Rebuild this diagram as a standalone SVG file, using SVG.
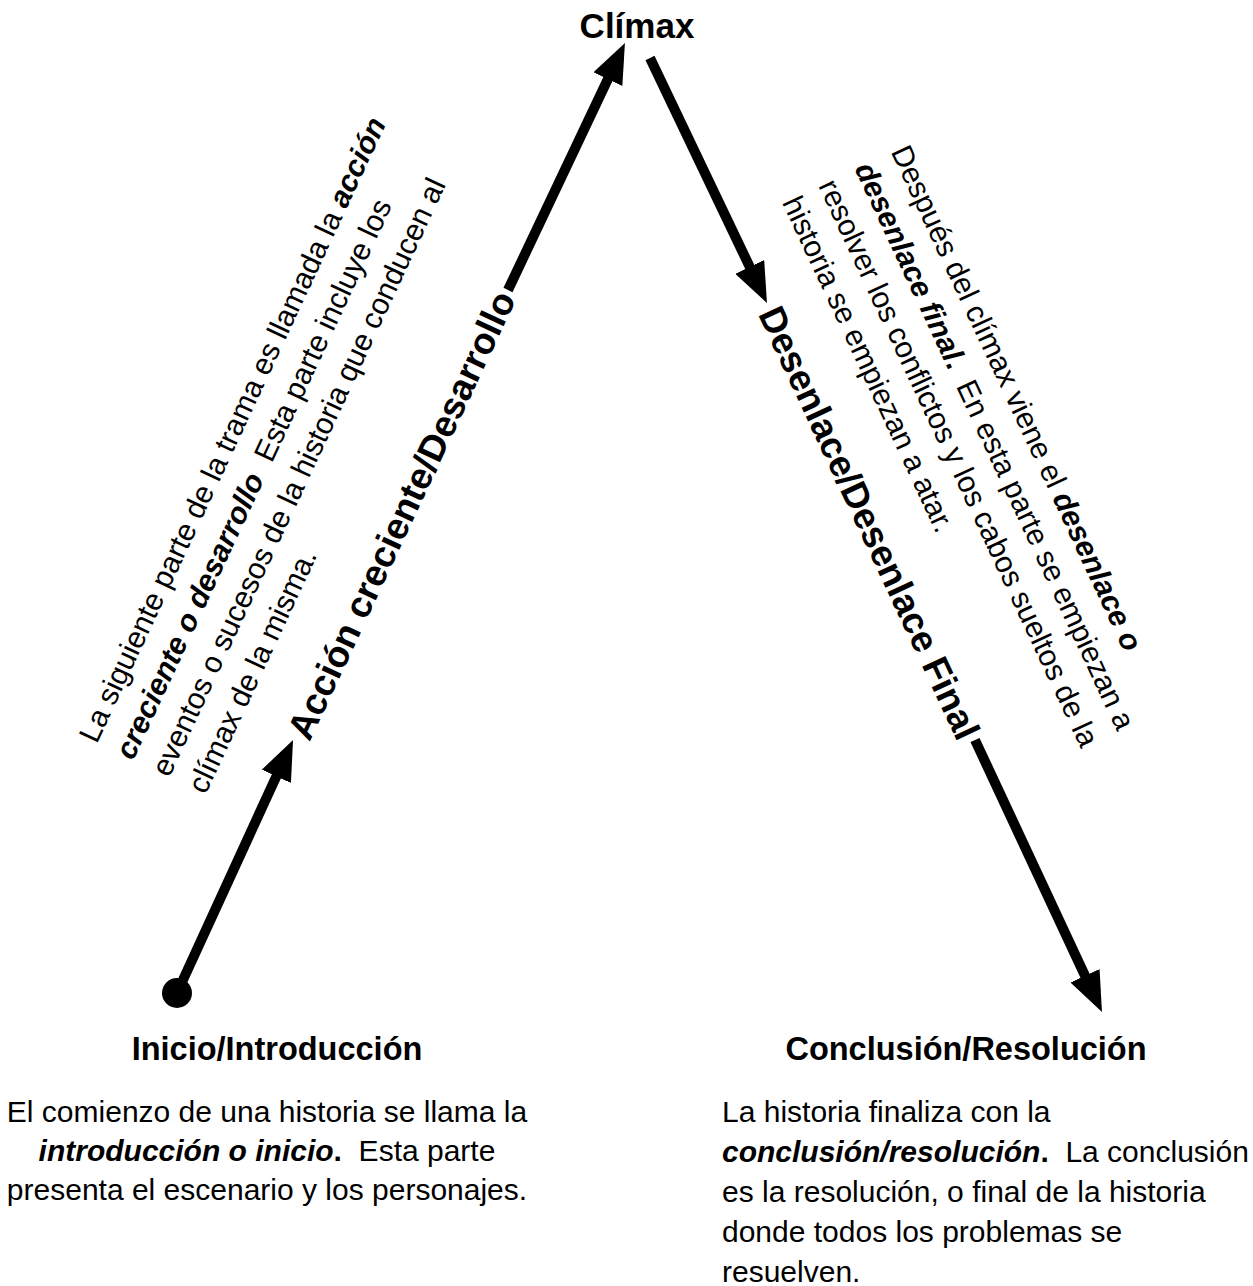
<svg xmlns="http://www.w3.org/2000/svg" width="1253" height="1286" viewBox="0 0 1253 1286">
<style>
text{font-family:"Liberation Sans",Arial,Helvetica,sans-serif;fill:#000}
.head{font-size:32.5px;font-weight:bold}
.rtitle{font-size:37px;font-weight:bold}
.body{font-size:30px}
.bi{font-weight:bold;font-style:italic}
.b{font-weight:bold}
.conn{stroke:#000;stroke-width:10;fill:none}
</style>
<defs>
<marker id="ah" viewBox="0 0 40 32" refX="2" refY="16" markerWidth="40" markerHeight="32" markerUnits="userSpaceOnUse" orient="auto">
<path d="M0,0 L40,16 L0,32 Z" fill="#000"/>
</marker>
</defs>
<rect width="1253" height="1286" fill="#fff"/>
<g id="connectors">
<circle cx="177" cy="993" r="15" fill="#000"/>
<line class="conn" x1="177" y1="993" x2="277.2" y2="774.5" marker-end="url(#ah)"/>
<line class="conn" x1="508" y1="290" x2="608.7" y2="77.3" marker-end="url(#ah)"/>
<line class="conn" x1="650" y1="58" x2="750.6" y2="268.7" marker-end="url(#ah)"/>
<line class="conn" x1="975" y1="740" x2="1085.9" y2="977.6" marker-end="url(#ah)"/>
</g>
<g id="climax">
<text class="head" x="637" y="38" text-anchor="middle" style="font-size:35px">Clímax</text>
</g>
<g id="accion" transform="translate(293,740) rotate(-65)">
<text class="rtitle" x="5" y="16">Acción creciente/Desarrollo</text>
<text class="body" x="-87" y="-176">La siguiente parte de la trama es llamada la <tspan class="bi">acción</tspan></text>
<text class="body" x="-87" y="-136"><tspan class="bi">creciente o desarrollo</tspan>&#160; Esta parte incluye los</text>
<text class="body" x="-87" y="-96">eventos o sucesos de la historia que conducen al</text>
<text class="body" x="-87" y="-56">clímax de la misma.</text>
</g>
<g id="desenlace" transform="translate(767,303) rotate(65)">
<text class="rtitle" x="6" y="13">Desenlace/Desenlace Final</text>
<text class="body" x="-85" y="-176">Después del clímax viene el <tspan class="bi">desenlace o</tspan></text>
<text class="body" x="-85" y="-136"><tspan class="bi">desenlace final</tspan><tspan class="b">.</tspan>&#160; En esta parte se empiezan a</text>
<text class="body" x="-85" y="-96">resolver los conflictos y los cabos sueltos de la</text>
<text class="body" x="-85" y="-56">historia se empiezan a atar.</text>
</g>
<g id="inicio">
<text class="head" x="277" y="1060" text-anchor="middle">Inicio/Introducción</text>
<text class="body" x="267" y="1122" text-anchor="middle">El comienzo de una historia se llama la</text>
<text class="body" x="267" y="1161" text-anchor="middle"><tspan class="bi">introducción o inicio</tspan><tspan class="b">.</tspan>&#160; Esta parte</text>
<text class="body" x="267" y="1200" text-anchor="middle">presenta el escenario y los personajes.</text>
</g>
<g id="conclusion">
<text class="head" x="966" y="1060" text-anchor="middle">Conclusión/Resolución</text>
<text class="body" x="722" y="1122">La historia finaliza con la</text>
<text class="body" x="722" y="1162"><tspan class="bi">conclusión/resolución</tspan><tspan class="b">.</tspan>&#160; La conclusión</text>
<text class="body" x="722" y="1202">es la resolución, o final de la historia</text>
<text class="body" x="722" y="1242">donde todos los problemas se</text>
<text class="body" x="722" y="1282">resuelven.</text>
</g>
</svg>
